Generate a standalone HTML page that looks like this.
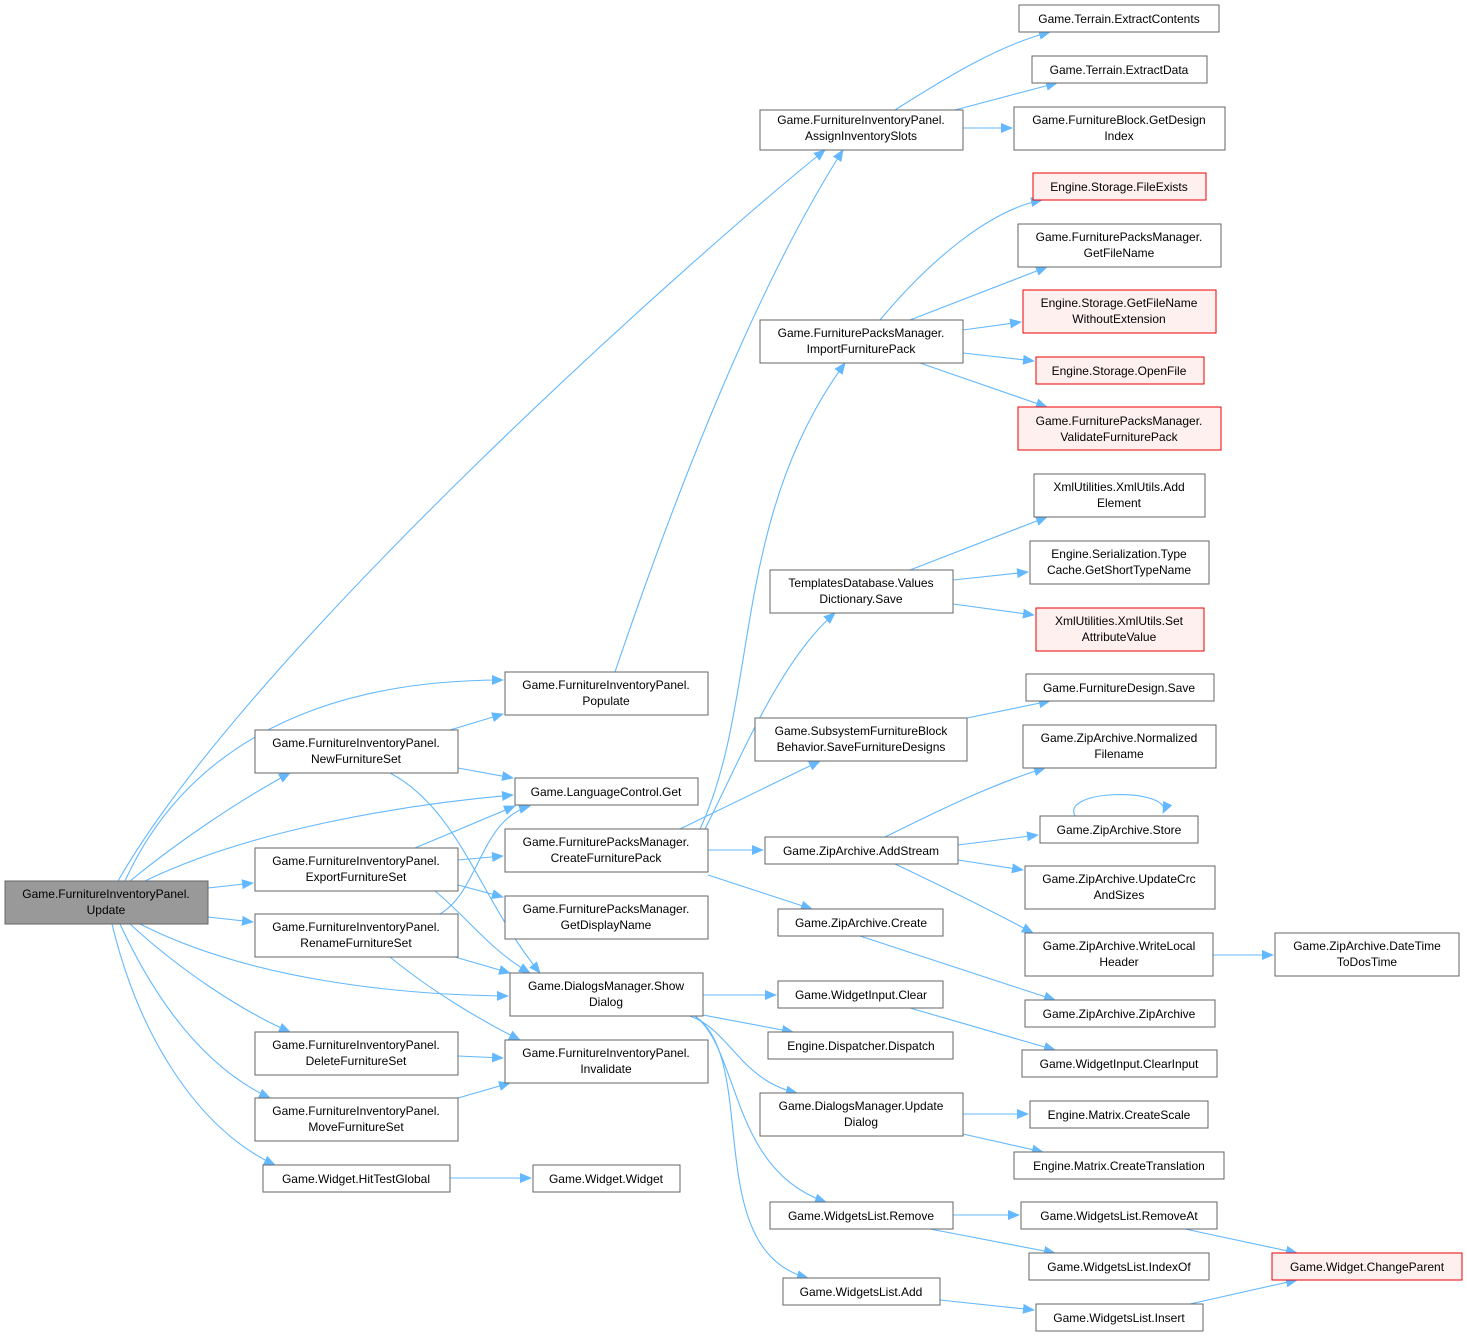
<!DOCTYPE html>
<html><head><meta charset="utf-8"><style>
body{margin:0;background:#fff;}
svg text{font-family:"Liberation Sans",sans-serif;font-size:12px;fill:#000;text-anchor:middle;}
.n{fill:#fff;stroke:#666;stroke-width:1;}
.r{fill:#fff0f0;stroke:#e00;stroke-width:1;}
.g{fill:#999;stroke:#666;stroke-width:1;}
.e{fill:none;stroke:#63b8ff;stroke-width:1.1;marker-end:url(#a);}
</style></head><body>
<svg width="1467" height="1336" xmlns="http://www.w3.org/2000/svg">
<defs><marker id="a" markerWidth="12" markerHeight="10" refX="11" refY="5" orient="auto" markerUnits="userSpaceOnUse"><path d="M0,0 L12,5 L0,10 z" fill="#63b8ff"/></marker></defs>
<g>
<path class="e" d="M118,881 C250,650 700,250 825,150"/>
<path class="e" d="M615,672 C680,480 760,280 843,150"/>
<path class="e" d="M125,881 C180,760 300,680 503,680"/>
<path class="e" d="M130,881 C180,840 240,800 290,773"/>
<path class="e" d="M145,881 C250,830 400,805 513,795"/>
<path class="e" d="M208,888 L253,883"/>
<path class="e" d="M208,917 L253,922"/>
<path class="e" d="M140,924 C250,980 400,995 508,996"/>
<path class="e" d="M130,924 C180,970 240,1010 290,1032"/>
<path class="e" d="M120,924 C160,1010 210,1070 270,1098"/>
<path class="e" d="M112,924 C140,1040 200,1130 275,1165"/>
<path class="e" d="M450,730 L503,714"/>
<path class="e" d="M458,768 L513,778"/>
<path class="e" d="M390,773 C460,810 480,900 540,973"/>
<path class="e" d="M415,848 L515,806"/>
<path class="e" d="M458,860 L503,856"/>
<path class="e" d="M458,885 L503,897"/>
<path class="e" d="M435,891 C470,920 490,950 530,973"/>
<path class="e" d="M440,914 C480,890 480,820 530,806"/>
<path class="e" d="M455,957 L510,973"/>
<path class="e" d="M390,957 C430,990 480,1020 520,1040"/>
<path class="e" d="M458,1056 L503,1058"/>
<path class="e" d="M458,1098 L510,1083"/>
<path class="e" d="M450,1178 L531,1178"/>
<path class="e" d="M700,829 C760,700 730,520 845,363"/>
<path class="e" d="M705,829 C740,760 780,660 835,613"/>
<path class="e" d="M680,829 L820,761"/>
<path class="e" d="M708,850 L763,850"/>
<path class="e" d="M708,875 L812,909"/>
<path class="e" d="M880,320 C930,260 990,210 1042,200"/>
<path class="e" d="M910,320 L1047,267"/>
<path class="e" d="M963,330 L1021,322"/>
<path class="e" d="M963,353 L1034,361"/>
<path class="e" d="M920,363 L1047,407"/>
<path class="e" d="M895,110 C950,75 1000,45 1050,32"/>
<path class="e" d="M955,110 L1057,83"/>
<path class="e" d="M963,128 L1012,128"/>
<path class="e" d="M910,570 L1047,517"/>
<path class="e" d="M953,580 L1028,572"/>
<path class="e" d="M953,604 L1034,615"/>
<path class="e" d="M967,718 L1050,701"/>
<path class="e" d="M885,837 C940,810 990,785 1045,768"/>
<path class="e" d="M958,845 L1038,835"/>
<path class="e" d="M1075,816 C1060,788 1175,788 1163,813"/>
<path class="e" d="M958,860 L1023,870"/>
<path class="e" d="M895,864 C950,890 990,910 1033,933"/>
<path class="e" d="M1213,955 L1273,955"/>
<path class="e" d="M860,936 L1055,1000"/>
<path class="e" d="M703,995 L776,995"/>
<path class="e" d="M703,1015 L793,1032"/>
<path class="e" d="M690,1016 C730,1030 740,1080 797,1093"/>
<path class="e" d="M695,1016 C740,1050 730,1170 826,1202"/>
<path class="e" d="M695,1016 C760,1060 700,1250 808,1278"/>
<path class="e" d="M910,1008 L1055,1050"/>
<path class="e" d="M963,1114 L1028,1114"/>
<path class="e" d="M963,1134 L1043,1152"/>
<path class="e" d="M953,1215 L1019,1215"/>
<path class="e" d="M930,1229 L1055,1253"/>
<path class="e" d="M1185,1229 L1297,1253"/>
<path class="e" d="M940,1300 L1034,1310"/>
<path class="e" d="M1190,1304 L1297,1280"/>
</g>
<g>
<rect class="g" x="5" y="881" width="203" height="43"/><text x="106" y="898">Game.FurnitureInventoryPanel.</text><text x="106" y="914">Update</text>
<rect class="n" x="760" y="110" width="203" height="40"/><text x="861" y="124">Game.FurnitureInventoryPanel.</text><text x="861" y="140">AssignInventorySlots</text>
<rect class="n" x="1019" y="5" width="200" height="27"/><text x="1119" y="23">Game.Terrain.ExtractContents</text>
<rect class="n" x="1032" y="56" width="175" height="27"/><text x="1119" y="74">Game.Terrain.ExtractData</text>
<rect class="n" x="1014" y="107" width="211" height="43"/><text x="1119" y="124">Game.FurnitureBlock.GetDesign</text><text x="1119" y="140">Index</text>
<rect class="r" x="1033" y="173" width="173" height="27"/><text x="1119" y="191">Engine.Storage.FileExists</text>
<rect class="n" x="1018" y="224" width="203" height="43"/><text x="1119" y="241">Game.FurniturePacksManager.</text><text x="1119" y="257">GetFileName</text>
<rect class="r" x="1023" y="290" width="193" height="43"/><text x="1119" y="307">Engine.Storage.GetFileName</text><text x="1119" y="323">WithoutExtension</text>
<rect class="n" x="760" y="320" width="203" height="43"/><text x="861" y="337">Game.FurniturePacksManager.</text><text x="861" y="353">ImportFurniturePack</text>
<rect class="r" x="1036" y="357" width="168" height="27"/><text x="1119" y="375">Engine.Storage.OpenFile</text>
<rect class="r" x="1018" y="407" width="203" height="43"/><text x="1119" y="425">Game.FurniturePacksManager.</text><text x="1119" y="441">ValidateFurniturePack</text>
<rect class="n" x="1034" y="474" width="171" height="43"/><text x="1119" y="491">XmlUtilities.XmlUtils.Add</text><text x="1119" y="507">Element</text>
<rect class="n" x="1030" y="541" width="179" height="43"/><text x="1119" y="558">Engine.Serialization.Type</text><text x="1119" y="574">Cache.GetShortTypeName</text>
<rect class="n" x="770" y="570" width="183" height="43"/><text x="861" y="587">TemplatesDatabase.Values</text><text x="861" y="603">Dictionary.Save</text>
<rect class="r" x="1036" y="608" width="168" height="43"/><text x="1119" y="625">XmlUtilities.XmlUtils.Set</text><text x="1119" y="641">AttributeValue</text>
<rect class="n" x="1026" y="674" width="188" height="27"/><text x="1119" y="692">Game.FurnitureDesign.Save</text>
<rect class="n" x="755" y="718" width="212" height="43"/><text x="861" y="735">Game.SubsystemFurnitureBlock</text><text x="861" y="751">Behavior.SaveFurnitureDesigns</text>
<rect class="n" x="1023" y="725" width="193" height="43"/><text x="1119" y="742">Game.ZipArchive.Normalized</text><text x="1119" y="758">Filename</text>
<rect class="n" x="505" y="672" width="203" height="43"/><text x="606" y="689">Game.FurnitureInventoryPanel.</text><text x="606" y="705">Populate</text>
<rect class="n" x="255" y="730" width="203" height="43"/><text x="356" y="747">Game.FurnitureInventoryPanel.</text><text x="356" y="763">NewFurnitureSet</text>
<rect class="n" x="515" y="778" width="183" height="27"/><text x="606" y="796">Game.LanguageControl.Get</text>
<rect class="n" x="1040" y="816" width="158" height="27"/><text x="1119" y="834">Game.ZipArchive.Store</text>
<rect class="n" x="505" y="829" width="203" height="43"/><text x="606" y="846">Game.FurniturePacksManager.</text><text x="606" y="862">CreateFurniturePack</text>
<rect class="n" x="765" y="837" width="193" height="27"/><text x="861" y="855">Game.ZipArchive.AddStream</text>
<rect class="n" x="255" y="848" width="203" height="43"/><text x="356" y="865">Game.FurnitureInventoryPanel.</text><text x="356" y="881">ExportFurnitureSet</text>
<rect class="n" x="1025" y="866" width="190" height="43"/><text x="1119" y="883">Game.ZipArchive.UpdateCrc</text><text x="1119" y="899">AndSizes</text>
<rect class="n" x="505" y="896" width="203" height="43"/><text x="606" y="913">Game.FurniturePacksManager.</text><text x="606" y="929">GetDisplayName</text>
<rect class="n" x="778" y="909" width="165" height="27"/><text x="861" y="927">Game.ZipArchive.Create</text>
<rect class="n" x="255" y="914" width="203" height="43"/><text x="356" y="931">Game.FurnitureInventoryPanel.</text><text x="356" y="947">RenameFurnitureSet</text>
<rect class="n" x="1025" y="933" width="188" height="43"/><text x="1119" y="950">Game.ZipArchive.WriteLocal</text><text x="1119" y="966">Header</text>
<rect class="n" x="1275" y="933" width="184" height="43"/><text x="1367" y="950">Game.ZipArchive.DateTime</text><text x="1367" y="966">ToDosTime</text>
<rect class="n" x="510" y="973" width="193" height="43"/><text x="606" y="990">Game.DialogsManager.Show</text><text x="606" y="1006">Dialog</text>
<rect class="n" x="778" y="981" width="165" height="27"/><text x="861" y="999">Game.WidgetInput.Clear</text>
<rect class="n" x="1025" y="1000" width="190" height="27"/><text x="1119" y="1018">Game.ZipArchive.ZipArchive</text>
<rect class="n" x="768" y="1032" width="185" height="27"/><text x="861" y="1050">Engine.Dispatcher.Dispatch</text>
<rect class="n" x="255" y="1032" width="203" height="43"/><text x="356" y="1049">Game.FurnitureInventoryPanel.</text><text x="356" y="1065">DeleteFurnitureSet</text>
<rect class="n" x="505" y="1040" width="203" height="43"/><text x="606" y="1057">Game.FurnitureInventoryPanel.</text><text x="606" y="1073">Invalidate</text>
<rect class="n" x="1022" y="1050" width="195" height="27"/><text x="1119" y="1068">Game.WidgetInput.ClearInput</text>
<rect class="n" x="760" y="1093" width="203" height="43"/><text x="861" y="1110">Game.DialogsManager.Update</text><text x="861" y="1126">Dialog</text>
<rect class="n" x="255" y="1098" width="203" height="43"/><text x="356" y="1115">Game.FurnitureInventoryPanel.</text><text x="356" y="1131">MoveFurnitureSet</text>
<rect class="n" x="1030" y="1101" width="178" height="27"/><text x="1119" y="1119">Engine.Matrix.CreateScale</text>
<rect class="n" x="1014" y="1152" width="210" height="27"/><text x="1119" y="1170">Engine.Matrix.CreateTranslation</text>
<rect class="n" x="263" y="1165" width="187" height="27"/><text x="356" y="1183">Game.Widget.HitTestGlobal</text>
<rect class="n" x="533" y="1165" width="147" height="27"/><text x="606" y="1183">Game.Widget.Widget</text>
<rect class="n" x="770" y="1202" width="183" height="27"/><text x="861" y="1220">Game.WidgetsList.Remove</text>
<rect class="n" x="1021" y="1202" width="196" height="27"/><text x="1119" y="1220">Game.WidgetsList.RemoveAt</text>
<rect class="r" x="1272" y="1253" width="190" height="27"/><text x="1367" y="1271">Game.Widget.ChangeParent</text>
<rect class="n" x="1029" y="1253" width="180" height="27"/><text x="1119" y="1271">Game.WidgetsList.IndexOf</text>
<rect class="n" x="783" y="1278" width="157" height="27"/><text x="861" y="1296">Game.WidgetsList.Add</text>
<rect class="n" x="1036" y="1304" width="167" height="27"/><text x="1119" y="1322">Game.WidgetsList.Insert</text>
</g>
</svg>
</body></html>
